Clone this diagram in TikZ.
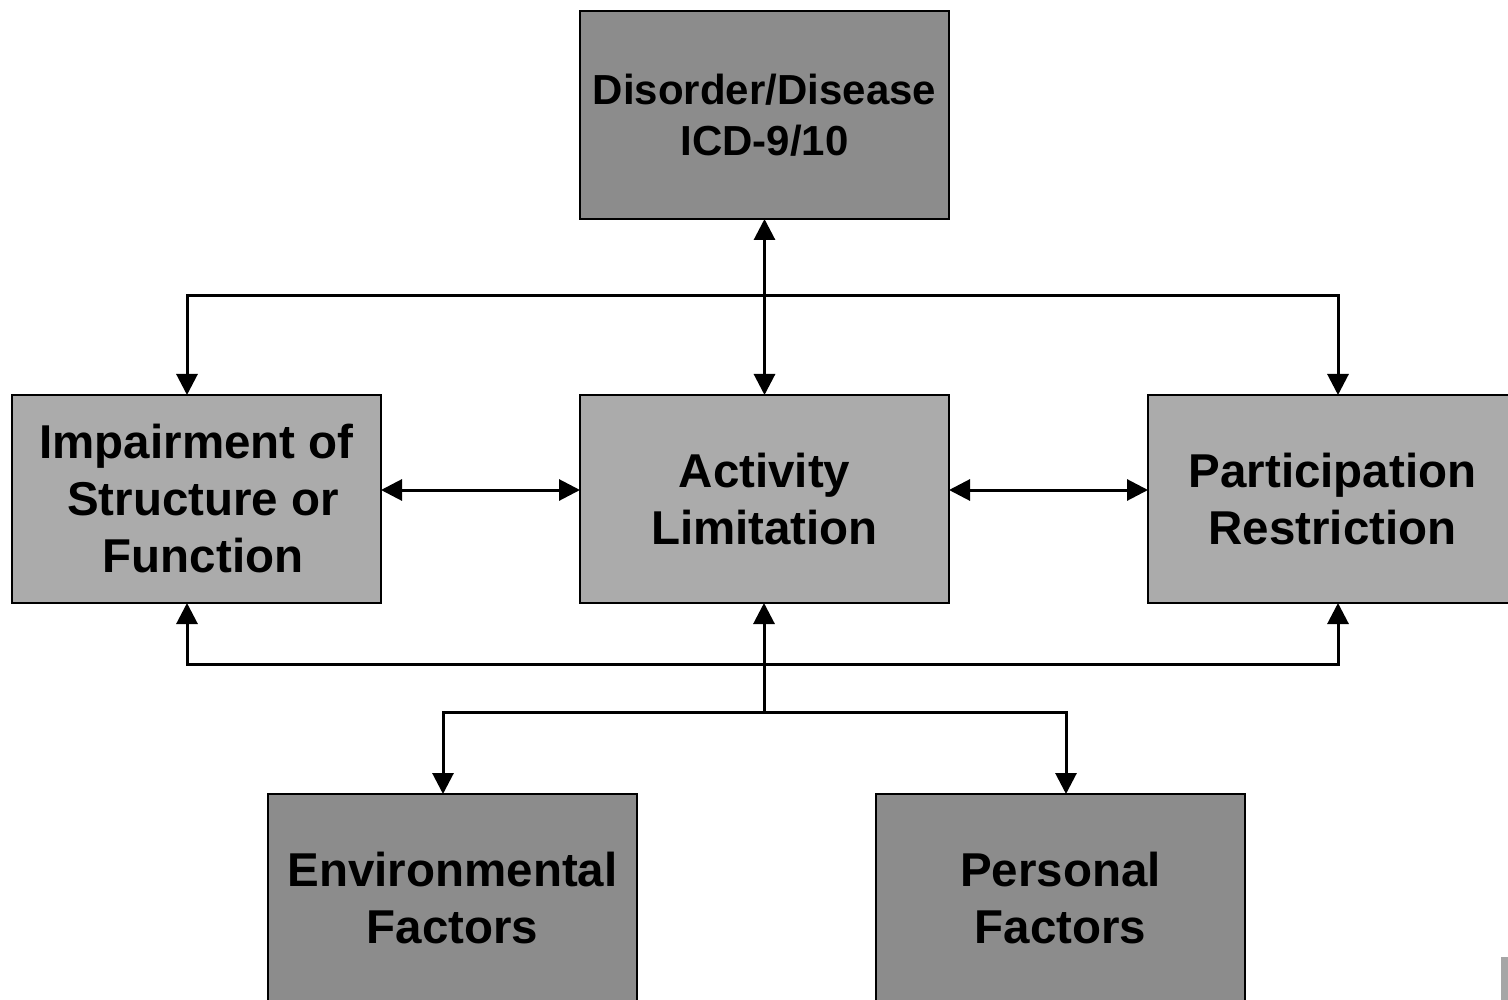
\documentclass[tikz,border=0pt]{standalone}
\usepackage{fontspec}
\setmainfont{Liberation Sans}
\usetikzlibrary{arrows.meta}
\definecolor{darkbox}{gray}{0.55}
\definecolor{lightbox}{gray}{0.67}
\tikzset{
  box/.style={draw=black, line width=2pt, minimum width=369pt, minimum height=208pt,
    inner sep=0pt, outer sep=0pt, align=center, font=\bfseries\fontsize{47.5}{57}\selectfont},
  darkb/.style={box, fill=darkbox},
  lightb/.style={box, fill=lightbox},
  conn/.style={line width=3pt, line join=miter,
    arrows={-}, >={Triangle[width=21pt,length=21pt]}},
}
\begin{document}
\begin{tikzpicture}[x=1pt,y=-1pt]
\useasboundingbox (0,0) rectangle (1508,1000);
\clip (0,0) rectangle (1508,1000);
\node[darkb, font=\bfseries\fontsize{42}{51}\selectfont] (dis) at (764.5,115) {Disorder/Disease\\ICD-9/10};
\node[lightb] (imp) at (196.5,499) {Impairment of\\\hspace*{13pt}Structure or\\\hspace*{13pt}Function};
\node[lightb] (act) at (764.5,499) {Activity\\Limitation};
\node[lightb] (par) at (1332.5,499) {Participation\\Restriction};
\node[darkb] (env) at (452.5,898) {Environmental\\Factors};
\node[darkb] (per) at (1060.5,898) {Personal\\Factors};
\fill[gray!70] (1501,957) rectangle (1510,1002);
% coordinates
\coordinate (tl) at (187,296);
\coordinate (tr) at (1338,296);
\coordinate (bl) at (187,664);
\coordinate (br) at (1338,664);
\coordinate (jn) at (764,712);
\coordinate (el) at (443,712);
\coordinate (er) at (1066,712);
\coordinate (hy) at (0,490);
% connectors
\draw[conn,<->] (dis.south) -- (act.north);
\draw[conn,<->] (imp.north -| tl) -- (tl) -- (tr) -- (par.north -| tr);
\draw[conn,<->] (imp.south -| bl) -- (bl) -- (br) -- (par.south -| br);
\draw[conn,->] (jn) -- (act.south -| jn);
\draw[conn,<->] (env.north -| el) -- (el) -- (er) -- (per.north -| er);
\draw[conn,<->] (imp.east |- hy) -- (act.west |- hy);
\draw[conn,<->] (act.east |- hy) -- (par.west |- hy);
\end{tikzpicture}
\end{document}
